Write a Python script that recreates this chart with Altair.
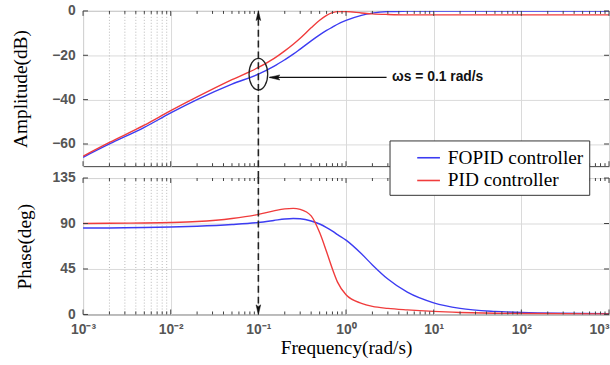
import altair as alt
import pandas as pd

# ---------------- data ----------------
freq = [0.001, 0.002, 0.005, 0.01, 0.02, 0.05, 0.1, 0.15, 0.2, 0.25, 0.3, 0.4, 0.5,
        0.6, 0.7, 0.8, 1, 1.5, 2, 3, 5, 10, 20, 50, 100, 1000]
amp_fopid = [-66, -60, -52.5, -46, -40, -33, -28.5, -25, -22, -19.5, -17.2, -13.5, -10.8,
             -8.8, -7.3, -6.0, -4.3, -2.0, -1.0, -0.3, -0.1, 0, 0, 0, 0, 0]
amp_pid = [-65.5, -59.3, -51.5, -45, -38.8, -31, -25.5, -21.5, -18, -15, -12.3, -7.6, -4.2,
           -2.0, -0.8, -0.3, -0.3, -0.9, -1.3, -1.6, -1.8, -1.8, -1.8, -1.8, -1.8, -1.8]
phase_fopid = [85.5, 85.6, 86, 86.5, 87.3, 89, 91, 93, 94.5, 95, 94.7, 92.5, 89.5,
               86, 82.5, 79, 73.5, 60, 49, 35, 22, 11.5, 6, 3, 2, 0.8]
phase_pid = [90, 90.2, 90.5, 91, 92, 95, 99, 102.5, 104.5, 105, 104, 97.5, 81,
             62, 45, 32, 19.5, 11, 8, 6, 4.5, 3, 2, 1.2, 1, 0.4]

series_names = ["FOPID controller", "PID controller"]
series_colors = ["#3c3cf2", "#f03c3c"]

decades = [0.001, 0.01, 0.1, 1, 10, 100, 1000]
decade_labels = ["10⁻³", "10⁻²", "10⁻¹", "10⁰", "10¹", "10²", "10³"]
minor_grid = [0.002, 0.003, 0.004, 0.005, 0.006, 0.007, 0.008, 0.009]
minor_ticks = [m * d for d in decades[:-1] for m in range(2, 10)]
amp_ticks = [-60, -40, -20, 0]
phase_ticks = [0, 45, 90, 135]

ws = 0.1
ellipse_db = -28.5
arrow_db = -30
arrow_tip_f = 0.135
arrow_tail_f = 2.9
label_f = 3.35
label_text = "ωs = 0.1 rad/s"

# ---------------- layout ----------------
W = 532
H1 = 157
H2 = 138
GAP = 12
GRID = "#dadada"
FRAME = "#404040"
SERIF = "Liberation Serif"
SANS = "Liberation Sans"

amp_df = pd.DataFrame({
    "freq": freq * 2,
    "value": amp_fopid + amp_pid,
    "series": [series_names[0]] * len(freq) + [series_names[1]] * len(freq),
})
phase_df = pd.DataFrame({
    "freq": freq * 2,
    "value": phase_fopid + phase_pid,
    "series": [series_names[0]] * len(freq) + [series_names[1]] * len(freq),
})

xscale = alt.Scale(type="log", domain=[0.001, 1000], nice=False)
label_expr = "[" + ",".join("'%s'" % s for s in decade_labels) + "][round(log(datum.value)/LN10)+3]"


def xenc(show_labels):
    if show_labels:
        ax = alt.Axis(values=decades, labelExpr=label_expr, labelFont=SANS, labelFontSize=14,
                      labelFontWeight="bold", labelColor="#555555", labelPadding=8,
                      labelFlush=False,
                      labelAlign=alt.ConditionalAxisLabelAlign(
                          condition={"test": "datum.value > 500", "value": "right"},
                          value="center"),
                      ticks=False, domain=False, grid=True, gridColor=GRID,
                      title="Frequency(rad/s)", titleFont=SERIF, titleFontSize=19.5,
                      titleFontWeight="normal", titleColor="black", titlePadding=3)
    else:
        ax = alt.Axis(values=decades, labels=False, ticks=False, domain=False, grid=True,
                      gridColor=GRID, title=None)
    return alt.X("freq:Q", scale=xscale, axis=ax)


def yenc(domain, ticks, title, tpad):
    return alt.Y("value:Q", scale=alt.Scale(domain=domain, nice=False),
                 axis=alt.Axis(values=ticks, title=title, titleFont=SERIF, titleFontSize=19.5,
                               titleFontWeight="normal", titleColor="black", titlePadding=tpad,
                               labelFont=SANS, labelFontSize=14, labelFontWeight="bold",
                               labelColor="#555555", labelPadding=8, ticks=False, domain=False,
                               grid=True, gridColor=GRID))


legend = alt.Legend(title=None, orient="none", legendX=310, legendY=131, fillColor="white",
                    strokeColor="#333333", padding=5, symbolType="stroke", symbolSize=529,
                    symbolStrokeWidth=1.6, symbolOffset=22, labelFont=SERIF, labelFontSize=19.5,
                    labelColor="black", labelOffset=7, rowPadding=1, cornerRadius=0)
color = alt.Color("series:N", scale=alt.Scale(domain=series_names, range=series_colors),
                  legend=legend)


def panel(df, domain, ticks, title, tpad, H, show_labels, top):
    X = xenc(show_labels)
    Y = yenc(domain, ticks, title, tpad)
    minor_df = pd.DataFrame({"freq": minor_grid})
    mt_df = pd.DataFrame({"freq": minor_ticks})
    mj_df = pd.DataFrame({"freq": decades})
    yt_df = pd.DataFrame({"value": ticks})

    grid_minor = alt.Chart(minor_df).mark_rule(color="#b8b8b8", strokeDash=[1, 2], strokeWidth=1).encode(
        x=X, y=alt.value(0), y2=alt.value(H))
    lines = alt.Chart(df).mark_line(strokeWidth=1.4, interpolate="monotone", clip=True).encode(
        x=X, y=Y, color=color, detail="series:N")
    layers = [grid_minor, lines]
    # inner tick marks (MATLAB style)
    for y0, y1 in [(0, 3), (H, H - 3)]:
        layers.append(alt.Chart(mt_df).mark_rule(color=FRAME, strokeWidth=1).encode(
            x=X, y=alt.value(y0), y2=alt.value(y1)))
    for y0, y1 in [(0, 5), (H, H - 5)]:
        layers.append(alt.Chart(mj_df).mark_rule(color=FRAME, strokeWidth=1).encode(
            x=X, y=alt.value(y0), y2=alt.value(y1)))
    for x0, x1 in [(0, 5), (W, W - 5)]:
        layers.append(alt.Chart(yt_df).mark_rule(color=FRAME, strokeWidth=1).encode(
            y=Y, x=alt.value(x0), x2=alt.value(x1)))

    ws_df = pd.DataFrame({"freq": [ws]})
    if top:
        layers.append(alt.Chart(ws_df).mark_rule(color="#222222", strokeWidth=1.6,
                                                 strokeDash=[7, 4], clip=False).encode(
            x=X, y=alt.value(8), y2=alt.value(H + GAP)))
        head_df = pd.DataFrame({"freq": [ws], "value": [domain[1]]})
        layers.append(alt.Chart(head_df).mark_point(
            shape="M0,-1L0.45,0.9L0,0.55L-0.45,0.9Z", filled=True, fill="#111111",
            stroke="#111111", strokeWidth=0.5, size=110, opacity=1, yOffset=5).encode(x=X, y=Y))
        ell_df = pd.DataFrame({"freq": [ws], "value": [ellipse_db]})
        layers.append(alt.Chart(ell_df).mark_point(
            shape="M-0.59,0A0.59,1 0 1,0 0.59,0A0.59,1 0 1,0 -0.59,0Z", filled=False,
            stroke="#222222", strokeWidth=1.3, size=1024, opacity=1).encode(x=X, y=Y))
        arr_df = pd.DataFrame({"freq": [arrow_tail_f], "freq2": [arrow_tip_f], "value": [arrow_db]})
        layers.append(alt.Chart(arr_df).mark_rule(color="#111111", strokeWidth=1.3).encode(
            x=X, x2="freq2:Q", y=Y))
        tip_df = pd.DataFrame({"freq": [arrow_tip_f], "value": [arrow_db]})
        layers.append(alt.Chart(tip_df).mark_point(
            shape="M-1,0L0.9,-0.45L0.55,0L0.9,0.45Z", filled=True, fill="#111111",
            stroke="#111111", strokeWidth=0.5, size=130, opacity=1, xOffset=5).encode(x=X, y=Y))
        txt_df = pd.DataFrame({"freq": [label_f], "value": [arrow_db], "text": [label_text]})
        layers.append(alt.Chart(txt_df).mark_text(
            align="left", baseline="middle", font=SANS, fontSize=14, fontWeight="bold",
            color="#111111").encode(x=X, y=Y, text="text:N"))
    else:
        layers.append(alt.Chart(ws_df).mark_rule(color="#222222", strokeWidth=1.6,
                                                 strokeDash=[7, 4], clip=False).encode(
            x=X, y=alt.value(-1), y2=alt.value(H - 6)))
        head_df = pd.DataFrame({"freq": [ws], "value": [domain[0]]})
        layers.append(alt.Chart(head_df).mark_point(
            shape="M0,1L0.45,-0.9L0,-0.55L-0.45,-0.9Z", filled=True, fill="#111111",
            stroke="#111111", strokeWidth=0.5, size=110, opacity=1, yOffset=-5).encode(x=X, y=Y))

    return alt.layer(*layers).properties(width=W, height=H)


top = panel(amp_df, [-70, 0], amp_ticks, "Amplitude(dB)", 21, H1, False, True)
bottom = panel(phase_df, [0, 135], phase_ticks, "Phase(deg)", 18, H2, True, False)

chart = alt.vconcat(top, bottom, spacing=GAP, bounds="flush").properties(
    padding={"left": 10, "top": 1, "right": 0, "bottom": 0},
    background="white",
).configure_view(stroke=FRAME, strokeWidth=1).configure_legend(
    labelFont=SERIF, labelFontSize=19.5, labelColor="black")

chart.save("out.html", embed_options={"renderer": "svg", "actions": False})
